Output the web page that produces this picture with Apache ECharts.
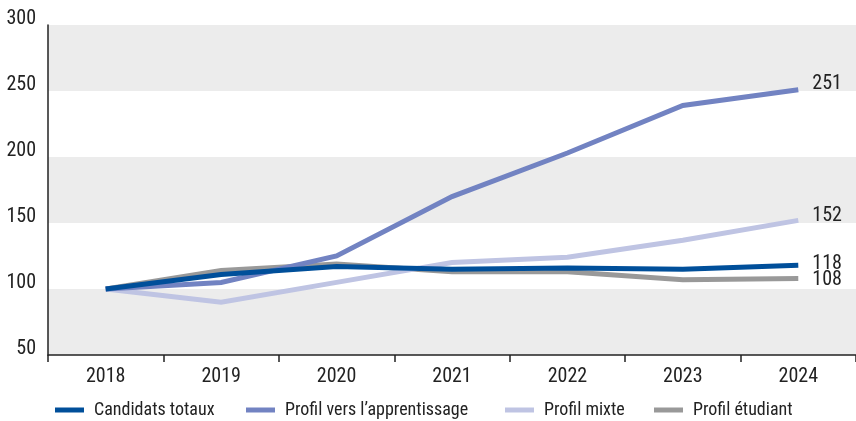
<!DOCTYPE html>
<html><head><meta charset="utf-8">
<script src="https://cdn.jsdelivr.net/npm/echarts@6/dist/echarts.min.js"></script>
<style>html,body{margin:0;padding:0;background:#fff}#c{width:856px;height:421px}</style>
</head><body><div id="c"></div>
<script>
const years = ['2018','2019','2020','2021','2022','2023','2024'];
const candidatsTotaux = [100,111,117,115,116,115,118];
const profilApprentissage = [100,105,125,170,203,239,251];
const profilMixte = [100,90,105,120,124,137,152];
const profilEtudiant = [100,114,119,113,113,107,108];
const yTicks = [50,100,150,200,250,300];

const FONT = '"Roboto Condensed","Liberation Sans Narrow",Roboto,sans-serif';
const names = ['Candidats totaux','Profil vers l\u2019apprentissage','Profil mixte','Profil \u00e9tudiant'];
const colors = ['#004f9a','#7283c2','#bfc4e3','#999999'];
const datas = [candidatsTotaux, profilApprentissage, profilMixte, profilEtudiant];
const legendLeft = [50,241,500,649];
const labelOffsets = [[0,-1],[0,-6],[0,-4],[0,2]];

function mkSeries(i){
  return {
    name: names[i], type:'line', data: datas[i], symbol:'none', smooth:false,
    lineStyle:{width:5,color:colors[i],cap:'butt',join:'miter'},
    itemStyle:{color:colors[i]},
    z: 10 - i,
    endLabel:{show:true, distance:14, color:'#222', fontFamily:FONT, fontSize:20,
      offset: labelOffsets[i],
      formatter: p => String(p.value)}
  };
}
const order = [3,2,1,0];
const series = order.map(mkSeries);

const legends = names.map((n,i)=>({
  data:[n], left: legendLeft[i], top: 396, itemWidth: 29, itemHeight: 5, itemGap: 0,
  icon:'rect', textStyle:{fontFamily:FONT, fontSize:18, color:'#222', padding:[0,0,0,5]},
  selectedMode:false
}));

const chart = echarts.init(document.getElementById('c'), null, {renderer:'canvas'});
chart.setOption({
  animation:false,
  color: colors,
  legend: legends,
  grid:{left:48, top:25, width:815, height:330, containLabel:false},
  xAxis:{type:'category', data: years, boundaryGap:true,
    axisLine:{lineStyle:{color:'#222',width:1.5}},
    axisTick:{show:true, interval:0, length:7, lineStyle:{color:'#222',width:1.5}},
    axisLabel:{fontFamily:FONT, fontSize:20, color:'#222', margin:12},
    splitLine:{show:false}},
  yAxis:{type:'value', min:yTicks[0], max:yTicks[yTicks.length-1], interval:50,
    axisLine:{show:true, lineStyle:{color:'#222',width:1.5}},
    axisTick:{show:false},
    axisLabel:{fontFamily:FONT, fontSize:20, color:'#222', margin:12, verticalAlign:'bottom', lineHeight:12},
    splitLine:{show:false},
    splitArea:{show:true, areaStyle:{color:['#ececec','#ffffff']}}},
  series: series
});
</script></body></html>
